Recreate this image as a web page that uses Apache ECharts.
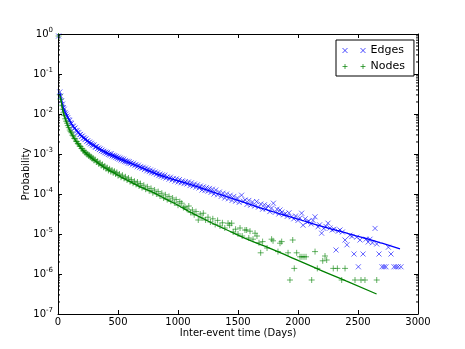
<!DOCTYPE html>
<html>
<head>
<meta charset="utf-8">
<script src="https://cdn.jsdelivr.net/npm/echarts@6/dist/echarts.min.js"></script>
<style>
html, body { margin: 0; padding: 0; background: #fff; }
#chart { width: 465px; height: 349px; }
</style>
</head>
<body>
<div id="chart"></div>
<script>
// [day, log10(probability)]
const edgePoints = [
  [5,-0.05],[15,-1.45],[22,-1.55],[30,-1.67],[38,-1.75],[45,-1.84],[52,-1.88],[60,-1.96],[68,-2.0],[75,-2.05],
  [82,-2.09],[90,-2.14],[98,-2.16],[105,-2.22],[112,-2.24],[120,-2.3],[128,-2.31],[135,-2.36],[142,-2.35],[150,-2.41],
  [158,-2.42],[165,-2.46],[172,-2.47],[180,-2.52],[188,-2.51],[195,-2.56],[203,-2.55],[210,-2.6],[218,-2.6],[225,-2.64],
  [233,-2.62],[240,-2.68],[248,-2.67],[255,-2.72],[263,-2.7],[270,-2.75],[278,-2.73],[285,-2.77],[293,-2.79],[300,-2.77],
  [308,-2.82],[315,-2.83],[323,-2.81],[330,-2.86],[338,-2.85],[345,-2.89],[353,-2.87],[360,-2.92],[368,-2.9],[375,-2.94],
  [383,-2.93],[390,-2.97],[398,-2.95],[405,-2.99],[413,-2.96],[420,-3.01],[428,-3.0],[435,-3.03],[443,-2.99],[450,-3.05],
  [458,-3.03],[465,-3.07],[473,-3.04],[480,-3.09],[488,-3.06],[495,-3.11],[503,-3.08],[510,-3.13],[518,-3.1],[525,-3.15],
  [533,-3.12],[540,-3.17],[548,-3.13],[555,-3.19],[563,-3.16],[570,-3.2],[578,-3.18],[585,-3.23],[593,-3.19],[600,-3.24],
  [610,-3.22],[620,-3.27],[630,-3.23],[640,-3.29],[650,-3.26],[660,-3.32],[670,-3.28],[680,-3.34],[690,-3.31],[700,-3.36],
  [710,-3.33],[720,-3.39],[730,-3.35],[740,-3.42],[750,-3.37],[760,-3.44],[770,-3.4],[780,-3.47],[790,-3.42],[800,-3.48],
  [810,-3.45],[820,-3.51],[830,-3.47],[840,-3.54],[850,-3.5],[860,-3.56],[870,-3.52],[880,-3.58],[890,-3.53],[900,-3.6],
  [912,-3.57],[925,-3.63],[937,-3.58],[950,-3.65],[962,-3.61],[975,-3.68],[987,-3.62],[1000,-3.7],[1012,-3.64],[1025,-3.72],
  [1037,-3.67],[1050,-3.74],[1062,-3.69],[1075,-3.75],[1087,-3.7],[1100,-3.79],[1112,-3.72],[1125,-3.8],[1137,-3.75],[1150,-3.83],
  [1162,-3.77],[1175,-3.85],[1187,-3.8],[1200,-3.9],[1212,-3.82],[1225,-3.91],[1237,-3.84],[1250,-3.93],[1262,-3.86],[1275,-3.96],
  [1287,-3.88],[1300,-4.0],[1315,-3.9],[1330,-4.02],[1345,-3.95],[1360,-4.06],[1375,-3.98],[1390,-4.1],[1405,-4.0],[1420,-4.12],
  [1435,-4.03],[1450,-4.16],[1465,-4.06],[1480,-4.18],[1495,-4.1],[1510,-4.21],[1530,-4.03],[1545,-4.18],[1560,-4.15],[1575,-4.26],
  [1590,-4.16],[1605,-4.28],[1620,-4.2],[1640,-4.3],[1655,-4.19],[1670,-4.33],[1690,-4.25],[1705,-4.38],[1720,-4.27],[1735,-4.37],
  [1750,-4.3],[1765,-4.44],[1780,-4.35],[1795,-4.23],[1810,-4.46],[1825,-4.38],[1840,-4.5],[1850,-4.4],[1865,-4.45],[1880,-4.52],
  [1895,-4.49],[1910,-4.56],[1925,-4.47],[1947,-4.57],[1965,-4.62],[1980,-4.55],[2000,-4.66],[2015,-4.6],[2030,-4.48],[2042,-4.78],
  [2060,-4.62],[2075,-4.7],[2090,-4.68],[2110,-4.75],[2125,-4.66],[2142,-4.57],[2167,-4.82],[2180,-4.77],[2197,-4.98],[2215,-4.86],
  [2233,-4.81],[2250,-4.73],[2267,-4.85],[2285,-4.9],[2300,-4.88],[2317,-5.4],[2335,-4.93],[2350,-4.9],[2370,-4.95],[2392,-5.15],
  [2408,-5.27],[2433,-5.03],[2450,-5.06],[2467,-5.5],[2489,-5.08],[2503,-5.82],[2517,-5.15],[2542,-5.5],[2567,-5.13],[2585,-5.2],
  [2600,-5.13],[2620,-5.22],[2642,-4.86],[2656,-5.25],[2675,-5.5],[2700,-5.82],[2717,-5.82],[2733,-5.82],[2753,-5.33],[2775,-5.5],
  [2800,-5.82],[2817,-5.82],[2835,-5.82],[2858,-5.82]
];

const nodePoints = [
  [5,-0.05],[15,-1.52],[22,-1.63],[30,-1.78],[38,-1.88],[45,-1.97],[52,-2.04],[60,-2.12],[68,-2.18],[75,-2.23],
  [82,-2.29],[90,-2.34],[98,-2.4],[105,-2.44],[112,-2.47],[120,-2.53],[128,-2.55],[135,-2.61],[142,-2.62],[150,-2.68],
  [158,-2.69],[165,-2.74],[172,-2.75],[180,-2.8],[188,-2.81],[195,-2.86],[203,-2.87],[210,-2.92],[218,-2.92],[225,-2.97],
  [233,-2.96],[240,-3.01],[248,-3.0],[255,-3.05],[263,-3.03],[270,-3.08],[278,-3.07],[285,-3.12],[293,-3.1],[300,-3.16],
  [310,-3.14],[320,-3.2],[330,-3.18],[340,-3.25],[350,-3.22],[360,-3.29],[370,-3.26],[380,-3.33],[390,-3.3],[400,-3.37],
  [410,-3.34],[420,-3.41],[430,-3.37],[440,-3.44],[450,-3.4],[460,-3.47],[470,-3.43],[480,-3.5],[490,-3.46],[500,-3.54],
  [512,-3.5],[525,-3.58],[537,-3.53],[550,-3.61],[562,-3.57],[575,-3.65],[587,-3.6],[600,-3.69],[612,-3.64],[625,-3.73],
  [637,-3.68],[650,-3.76],[662,-3.7],[675,-3.8],[687,-3.74],[700,-3.84],[715,-3.78],[730,-3.88],[745,-3.82],[760,-3.92],
  [775,-3.86],[790,-3.97],[805,-3.9],[820,-4.0],[835,-3.94],[850,-4.05],[865,-3.98],[880,-4.1],[895,-4.02],[910,-4.14],
  [925,-4.06],[940,-4.18],[955,-4.1],[970,-4.22],[985,-4.14],[1000,-4.28],[1015,-4.19],[1031,-4.23],[1045,-4.34],[1058,-4.32],
  [1075,-4.38],[1090,-4.3],[1105,-4.46],[1120,-4.4],[1135,-4.52],[1150,-4.44],[1169,-4.65],[1185,-4.5],[1200,-4.6],[1211,-4.48],
  [1230,-4.65],[1250,-4.58],[1270,-4.7],[1290,-4.62],[1310,-4.76],[1330,-4.66],[1350,-4.8],[1370,-4.72],[1390,-4.85],[1417,-4.73],
  [1430,-4.78],[1447,-4.73],[1460,-4.95],[1480,-4.88],[1500,-5.0],[1517,-4.85],[1535,-5.05],[1558,-4.9],[1572,-4.9],[1590,-5.1],
  [1600,-4.93],[1625,-5.13],[1642,-4.98],[1658,-5.05],[1675,-5.22],[1689,-5.47],[1705,-5.19],[1742,-5.35],[1780,-5.13],[1792,-5.17],
  [1833,-5.44],[1850,-5.23],[1864,-5.19],[1917,-5.47],[1933,-6.15],[1956,-5.15],[1969,-5.86],[1989,-5.47],[2017,-5.57],[2033,-5.57],
  [2050,-5.57],[2067,-5.57],[2114,-6.15],[2142,-5.44],[2161,-5.86],[2206,-5.67],[2225,-5.55],[2239,-5.65],[2294,-5.86],[2328,-5.86],
  [2364,-6.15],[2392,-5.86],[2475,-6.15],[2525,-6.15],[2558,-6.15],[2656,-6.15]
];

// fitted curves
const edgeFit = [
  [17,-1.48],[25,-1.6],[40,-1.78],[55,-1.92],[70,-2.0],[85,-2.1],[100,-2.18],[120,-2.28],[140,-2.36],[160,-2.43],
  [180,-2.5],[200,-2.56],[240,-2.66],[280,-2.75],[320,-2.83],[360,-2.9],[400,-2.96],[460,-3.04],[540,-3.15],[620,-3.25],
  [700,-3.35],[780,-3.45],[850,-3.53],[1000,-3.67],[1100,-3.76],[1200,-3.86],[1300,-3.96],[1400,-4.06],[1500,-4.16],[1600,-4.26],
  [1700,-4.36],[1800,-4.45],[1900,-4.54],[2000,-4.63],[2100,-4.72],[2200,-4.81],[2300,-4.89],[2400,-4.97],[2500,-5.06],[2600,-5.14],
  [2700,-5.23],[2850,-5.37]
];
const nodeFit = [
  [17,-1.55],[25,-1.65],[40,-1.9],[55,-2.07],[70,-2.2],[85,-2.32],[100,-2.42],[120,-2.53],[140,-2.63],[160,-2.72],
  [180,-2.8],[200,-2.88],[233,-2.98],[260,-3.05],[300,-3.15],[340,-3.24],[383,-3.33],[433,-3.42],[500,-3.53],[560,-3.63],
  [620,-3.72],[700,-3.84],[800,-3.97],[900,-4.13],[1000,-4.28],[1100,-4.45],[1200,-4.6],[1300,-4.75],[1460,-4.97],[1600,-5.16],
  [1767,-5.36],[1900,-5.53],[2000,-5.66],[2200,-5.92],[2400,-6.17],[2655,-6.5]
];

const xMin = 0, xMax = 3000, xStep = 500;
const yMinExp = -7, yMaxExp = 0;

// log minor tick positions (2..9 x 10^n)
const minorTicks = [];
for (let e = yMinExp; e < yMaxExp; e++) {
  for (let m = 2; m <= 9; m++) minorTicks.push([0, e + Math.log10(m)]);
}

const blue = '#0000ff';
const green = '#008000';
const crossPath = 'path://M0,0L10,10M10,0L0,10';
const plusPath = 'path://M5,0L5,10M0,5L10,5';

const chart = echarts.init(document.getElementById('chart'));

const font = 'DejaVu Sans';
const tickStyle = { show: true, inside: true, length: 4, lineStyle: { color: '#000' } };
const lineStyle = { show: true, onZero: false, lineStyle: { color: '#000', width: 1 } };

const option = {
  animation: false,
  textStyle: { fontFamily: font },
  grid: { left: 58, right: 47, top: 34, bottom: 35 },
  legend: {
    orient: 'vertical',
    left: 336,
    top: 40,
    padding: [5, 9, 4, 4],
    itemGap: 5,
    itemWidth: 23,
    itemHeight: 5,
    itemTextGap: 10,
    borderColor: '#000',
    borderWidth: 1,
    textStyle: { fontFamily: font, fontSize: 11, color: '#000' },
    data: [
      { name: 'Edges', icon: 'path://M0,0L5,5M5,0L0,5M18,0L23,5M23,0L18,5',
        itemStyle: { color: 'none', borderColor: blue, borderWidth: 1, opacity: 0.7 } },
      { name: 'Nodes', icon: 'path://M2.5,0L2.5,5M0,2.5L5,2.5M20.5,0L20.5,5M18,2.5L23,2.5',
        itemStyle: { color: 'none', borderColor: green, borderWidth: 1, opacity: 0.7 } }
    ]
  },
  xAxis: [
    {
      type: 'value', min: xMin, max: xMax, interval: xStep,
      name: 'Inter-event time (Days)', nameLocation: 'middle', nameGap: 14, nameMoveOverlap: false,
      nameTextStyle: { fontFamily: font, fontSize: 10, color: '#000', verticalAlign: 'top' },
      axisLine: lineStyle, axisTick: tickStyle, splitLine: { show: false },
      axisLabel: { fontFamily: font, fontSize: 10, color: '#000', margin: 3, formatter: v => String(v) }
    },
    {
      type: 'value', position: 'top', min: xMin, max: xMax, interval: xStep,
      axisLine: lineStyle, axisTick: tickStyle, splitLine: { show: false },
      axisLabel: { show: false }
    }
  ],
  yAxis: [
    {
      type: 'value', min: yMinExp, max: yMaxExp, interval: 1,
      name: 'Probability', nameLocation: 'middle', nameGap: 27, nameRotate: 90, nameMoveOverlap: false,
      nameTextStyle: { fontFamily: font, fontSize: 10, color: '#000' },
      axisLine: lineStyle, axisTick: tickStyle, splitLine: { show: false },
      axisLabel: {
        margin: 5,
        formatter: v => '{b|10}{s|' + Math.round(v) + '}',
        rich: {
          b: { fontFamily: font, fontSize: 10, color: '#000' },
          s: { fontFamily: font, fontSize: 7, color: '#000', verticalAlign: 'bottom', padding: [0, 0, 7, 0] }
        }
      }
    },
    {
      type: 'value', position: 'right', min: yMinExp, max: yMaxExp, interval: 1,
      axisLine: lineStyle, axisTick: tickStyle, splitLine: { show: false },
      axisLabel: { show: false }
    }
  ],
  series: [
    {
      name: 'Edges', type: 'scatter', symbol: crossPath, symbolSize: 5,
      itemStyle: { color: 'none', borderColor: blue, borderWidth: 1, opacity: 0.6 },
      data: edgePoints, z: 3
    },
    {
      name: 'Nodes', type: 'scatter', symbol: plusPath, symbolSize: 6,
      itemStyle: { color: 'none', borderColor: green, borderWidth: 1, opacity: 0.6 },
      data: nodePoints, z: 3
    },
    {
      name: 'Edges fit', type: 'line', data: edgeFit, showSymbol: false, smooth: true,
      lineStyle: { color: blue, width: 1.3 }, z: 4
    },
    {
      name: 'Nodes fit', type: 'line', data: nodeFit, showSymbol: false, smooth: true,
      lineStyle: { color: green, width: 1.3 }, z: 4
    },
    {
      name: 'minor ticks', type: 'custom', silent: true, clip: false, z: 5,
      data: minorTicks,
      renderItem: (params, api) => {
        const l = api.coord([xMin, api.value(1)]);
        const r = api.coord([xMax, api.value(1)]);
        const st = { stroke: '#000', lineWidth: 1 };
        return {
          type: 'group',
          children: [
            { type: 'line', shape: { x1: l[0], y1: l[1], x2: l[0] + 2, y2: l[1] }, style: st },
            { type: 'line', shape: { x1: r[0], y1: r[1], x2: r[0] - 2, y2: r[1] }, style: st }
          ]
        };
      }
    }
  ]
};

chart.setOption(option);
</script>
</body>
</html>
